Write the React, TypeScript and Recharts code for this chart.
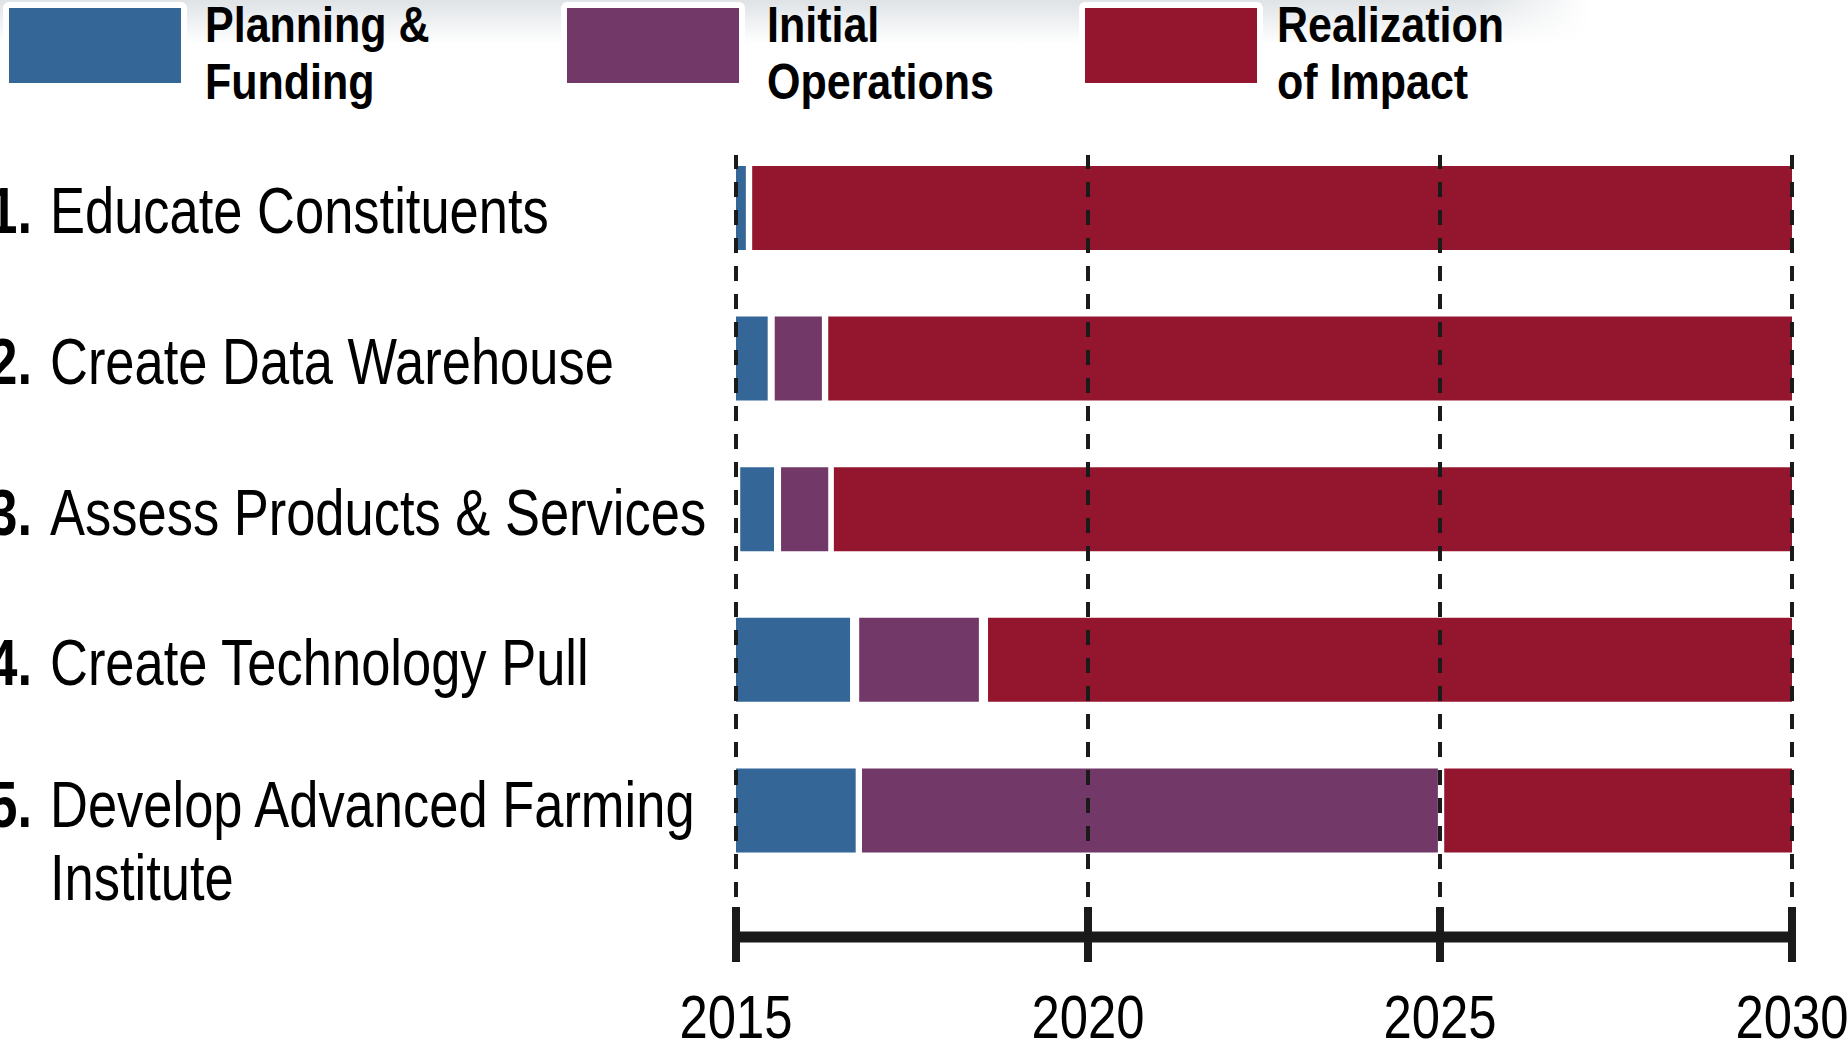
import {
  BarChart,
  Bar,
  XAxis,
  YAxis,
  ReferenceLine,
} from "recharts";

const TASKS = [
  "Educate Constituents",
  "Create Data Warehouse",
  "Assess Products & Services",
  "Create Technology Pull",
  "Develop Advanced Farming Institute",
];
const TASK_NUMBERS = ["1.", "2.", "3.", "4.", "5."];
const TASK_LINES = [
  ["Educate Constituents"],
  ["Create Data Warehouse"],
  ["Assess Products & Services"],
  ["Create Technology Pull"],
  ["Develop Advanced Farming", "Institute"],
];

// [start year, end year] of each phase, per task
const PLANNING = [
  [2015, 2015.14],
  [2015, 2015.45],
  [2015.06, 2015.54],
  [2015, 2016.62],
  [2015, 2016.7],
];
const OPERATIONS = [
  null,
  [2015.55, 2016.22],
  [2015.64, 2016.31],
  [2016.75, 2018.45],
  [2016.79, 2024.97],
];
const IMPACT = [
  [2015.23, 2030],
  [2016.31, 2030],
  [2016.39, 2030],
  [2018.58, 2030],
  [2025.06, 2030],
];

const YEAR_TICKS = [2015, 2020, 2025, 2030];

const PHASES = [
  { key: "planning", label: ["Planning &", "Funding"], color: "#346798" },
  { key: "operations", label: ["Initial", "Operations"], color: "#713868" },
  { key: "impact", label: ["Realization", "of Impact"], color: "#94152e" },
];

// no narrow font installed, so squeeze Liberation Sans horizontally
const FONT = "'Liberation Sans', Arial, sans-serif";
const NARROW = 0.82;
const INK = "#1a1a1a";
const BAR_SIZE = 84;

const data = TASKS.map((name, i) => ({
  name,
  planning: PLANNING[i],
  operations: OPERATIONS[i],
  impact: IMPACT[i],
}));

function TaskTick(props: any) {
  const { y, payload } = props;
  const i = TASKS.indexOf(payload.value);
  const lines = TASK_LINES[i];
  const base = y + 25 - 9 * (lines.length - 1);
  return (
    <g
      transform={`translate(0, ${base}) scale(${NARROW}, 1)`}
      fontFamily={FONT}
      fontSize={64}
      fill="#000"
    >
      <text x={32 / NARROW} y={0} textAnchor="end" fontWeight={700}>
        {TASK_NUMBERS[i]}
      </text>
      <text x={50 / NARROW} y={0} textAnchor="start">
        {lines.map((l, k) => (
          <tspan key={k} x={50 / NARROW} dy={k === 0 ? 0 : 73}>
            {l}
          </tspan>
        ))}
      </text>
    </g>
  );
}

function YearTick(props: any) {
  const { x, y, payload } = props;
  return (
    <g>
      <line x1={x} x2={x} y1={y - 30} y2={y + 25} stroke={INK} strokeWidth={8} />
      <g transform={`translate(${x}, ${y + 101}) scale(${NARROW}, 1)`}>
        <text
          x={0}
          y={0}
          textAnchor="middle"
          fontFamily={FONT}
          fontSize={62}
          fill="#000"
        >
          {payload.value}
        </text>
      </g>
    </g>
  );
}

function PhaseLegend() {
  const lefts = [3, 561, 1079];
  const textLefts = [205, 767, 1277];
  return (
    <>
      <div
        style={{
          position: "absolute",
          left: 0,
          top: 0,
          width: 1848,
          height: 44,
          background:
            "linear-gradient(to right, rgba(255,255,255,0) 80%, #fff 86%), linear-gradient(to bottom, #dfe3e6, rgba(255,255,255,0))",
        }}
      />
      {PHASES.map((p, i) => (
        <div key={p.key}>
          <div
            style={{
              position: "absolute",
              left: lefts[i],
              top: 2,
              padding: 6,
              background: "#fff",
              borderRadius: 6,
            }}
          >
            <div style={{ width: 172, height: 75, background: p.color }} />
          </div>
          {p.label.map((line, k) => (
            <div
              key={k}
              style={{
                position: "absolute",
                left: textLefts[i],
                top: k * 57,
                height: 50,
                fontFamily: FONT,
                fontWeight: 700,
                fontSize: 50,
                lineHeight: "50px",
                color: "#000",
                whiteSpace: "nowrap",
                transform: "scaleX(0.86)",
                transformOrigin: "left center",
              }}
            >
              {line}
            </div>
          ))}
        </div>
      ))}
    </>
  );
}

export default function App() {
  return (
    <div
      style={{
        position: "absolute",
        left: 0,
        top: 0,
        width: 1848,
        height: 1043,
        background: "#fff",
        overflow: "hidden",
      }}
    >
      <PhaseLegend />
      <div style={{ position: "absolute", left: 0, top: 0 }}>
        <BarChart
          width={1848}
          height={1043}
          data={data}
          layout="vertical"
          margin={{ top: 155, right: 56, bottom: 0, left: 0 }}
          barSize={BAR_SIZE}
          barGap={-BAR_SIZE}
        >
          <XAxis
            type="number"
            domain={[2015, 2030]}
            ticks={YEAR_TICKS}
            allowDataOverflow
            height={40}
            axisLine={false}
            tickLine={false}
            tick={false}
          />
          <XAxis
            xAxisId="years"
            type="number"
            domain={[2015, 2030]}
            ticks={YEAR_TICKS}
            allowDataOverflow
            height={106}
            axisLine={{ stroke: INK, strokeWidth: 11 }}
            tickLine={false}
            tickSize={0}
            tickMargin={0}
            tick={<YearTick />}
          />
          <YAxis
            type="category"
            dataKey="name"
            width={736}
            padding={{ top: -22, bottom: 11 }}
            axisLine={false}
            tickLine={false}
            tick={<TaskTick />}
            interval={0}
          />
          {PHASES.map((p) => (
            <Bar
              key={p.key}
              dataKey={p.key}
              fill={p.color}
              isAnimationActive={false}
            />
          ))}
          {YEAR_TICKS.map((t) => (
            <ReferenceLine
              key={t}
              x={t}
              stroke={INK}
              strokeWidth={4}
              strokeDasharray="15 13"
            />
          ))}
        </BarChart>
      </div>
    </div>
  );
}
